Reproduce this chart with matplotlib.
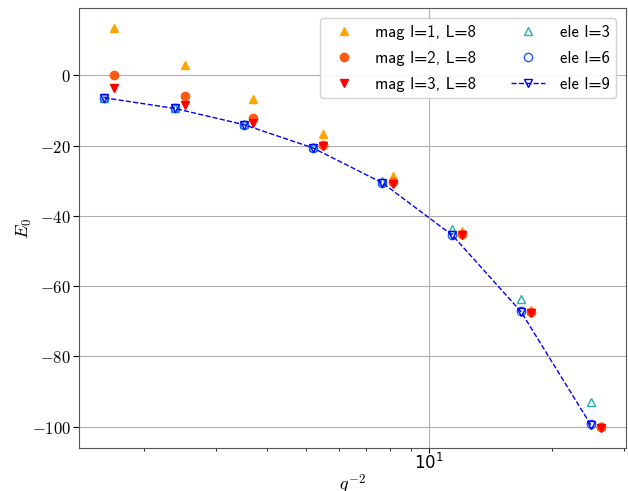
import numpy as np
import matplotlib
matplotlib.use("Agg")
import matplotlib.pyplot as plt
from matplotlib.ticker import FuncFormatter

plt.rcParams['mathtext.fontset'] = 'cm'

# q^-2 positions
q2_ele = [1.596, 2.38, 3.51, 5.18, 7.68, 11.4, 16.8, 24.9]
q2_mag = [1.69, 2.52, 3.71, 5.48, 8.13, 12.06, 17.8, 26.4]

mag_l1 = [13.4, 2.9, -6.6, -16.6, -28.7, -44.4, -66.7, -99.9]
mag_l2 = [0.2, -5.8, -12.1, -19.9, -30.3, -45.2, -67.3, -100.1]
mag_l3 = [-3.7, -8.3, -13.5, -20.2, -30.8, -45.5, -67.5, -100.3]

ele_l3 = [-6.3, -9.3, -13.9, -20.4, -30.0, -43.6, -63.5, -92.9]
ele_l6 = [-6.3, -9.4, -14.0, -20.6, -30.5, -45.3, -67.0, -99.2]
ele_l9 = [-6.35, -9.4, -14.0, -20.6, -30.6, -45.5, -67.3, -99.5]

fig = plt.figure(figsize=(6.28, 4.91), dpi=100)
ax = fig.add_axes([0.126, 0.088, 0.871, 0.895])

ax.plot(q2_mag, mag_l1, '^', color='orange', ms=6, label='mag l=1, L=8')
ax.plot(q2_mag, mag_l2, 'o', color='#ff5a10', ms=6, label='mag l=2, L=8')
ax.plot(q2_mag, mag_l3, 'v', color='red', ms=6, label='mag l=3, L=8')
ax.plot(q2_ele, ele_l3, '^', color='#20b2aa', mfc='none', ms=6, label='ele l=3')
ax.plot(q2_ele, ele_l6, 'o', color='#1a5cff', mfc='none', ms=6, label='ele l=6')
ax.plot(q2_ele, ele_l9, 'v--', color='blue', mfc='none', ms=6, lw=1, label='ele l=9')

ax.set_xscale('log')
ax.grid(True, which='major', color='#b0b0b0', lw=0.8)
ax.set_axisbelow(True)
ax.yaxis.set_major_formatter(FuncFormatter(lambda v, p: r'$%d$' % v))
ax.tick_params(labelsize=12, direction='out', pad=2)
ax.tick_params(axis='x', pad=0)
ax.tick_params(axis='y', length=4)
for s in ax.spines.values():
    s.set_color('#555555')

ax.set_xlabel(r'$q^{-2}$', fontsize=13, labelpad=0)
ax.set_ylabel(r'$E_0$', fontsize=13, labelpad=-2)

ax.legend(loc='upper right', ncol=2,
          prop={'family': ['cmss10', 'DejaVu Sans'], 'size': 12},
          columnspacing=2.1, handletextpad=0.9, labelspacing=0.65,
          borderaxespad=0.6, framealpha=0.9)

fig.savefig('out.png', dpi=100)
